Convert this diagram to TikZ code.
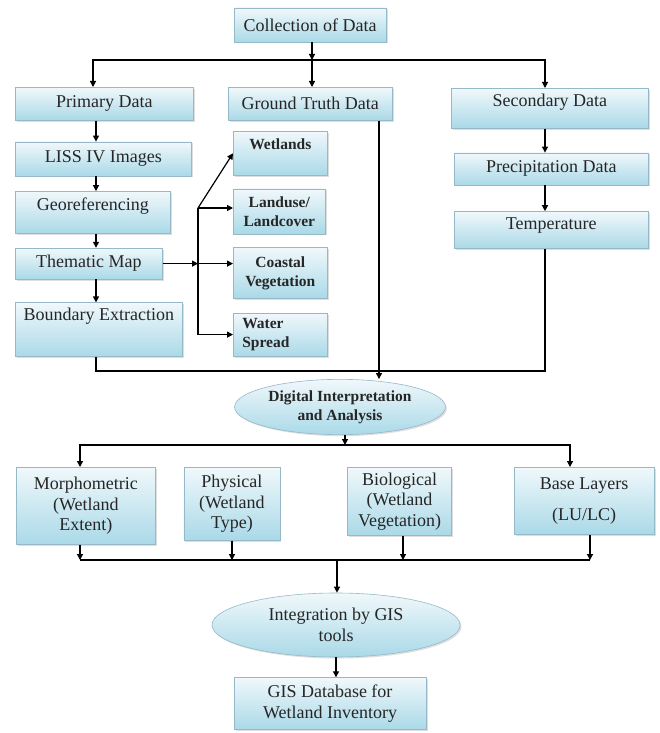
\documentclass[tikz,border=0pt]{standalone}
\usepackage{fontspec}
\setmainfont{Liberation Serif}
\usetikzlibrary{shapes.geometric, arrows.meta, positioning, shadows}
\definecolor{boxtop}{RGB}{240,248,251}
\definecolor{boxbot}{RGB}{170,217,232}
\definecolor{boxline}{RGB}{150,185,200}

\begin{document}
\begin{tikzpicture}[
  x=1pt, y=-1pt,
  stage/.style={rectangle, draw=boxline, line width=0.6pt,
    top color=boxtop, bottom color=boxbot, align=center, inner sep=3pt,
    text=black!85, font=\fontsize{18}{20.5}\selectfont,
    drop shadow={shadow xshift=1.5pt, shadow yshift=-1.5pt, fill=black!25}},
  item/.style={stage, font=\fontsize{15.5}{19}\selectfont\bfseries},
  process/.style={stage, ellipse},
  lifted/.style={text depth=#1},
  flow/.style={-{Triangle[length=6pt, width=6pt]}, line width=1.2pt},
  link/.style={line width=1.2pt}
]
  \fill[white] (0,0) rectangle (660,733);
  \useasboundingbox (0,0) rectangle (660,733);

  % collection and the three sources
  \node[stage, minimum width=152pt, minimum height=34pt] (collect) at (310,25) {Collection of Data};
  \node[stage, anchor=north west, minimum width=178pt, minimum height=33pt] (primary) at (15,87) {Primary Data};
  \node[stage, anchor=north west, minimum width=164pt, minimum height=33pt] (ground) at (228,87) {Ground Truth Data};
  \node[stage, lifted=16pt, anchor=north west, minimum width=197pt, minimum height=40pt] (secondary) at (451,88) {Secondary Data};

  % primary data chain
  \node[stage, below=21pt of primary.south west, anchor=north west, minimum width=176pt, minimum height=34pt] (liss) {LISS IV Images};
  \node[stage, lifted=16pt, below=15pt of liss.south west, anchor=north west, minimum width=155pt, minimum height=42pt] (georef) {Georeferencing};
  \node[stage, below=14pt of georef.south west, anchor=north west, minimum width=147pt, minimum height=31pt] (thematic) {Thematic Map};
  \node[stage, lifted=30pt, below=23pt of thematic.south west, anchor=north west, minimum width=167pt, minimum height=54pt] (boundary) {Boundary Extraction};

  % thematic classes
  \node[item, lifted=19pt, anchor=north west, minimum width=94pt, minimum height=44pt] (wetlands) at (233,131) {Wetlands};
  \node[item, below=13pt of wetlands.south west, anchor=north west, minimum width=92pt, minimum height=45pt] (landuse) {Landuse/\\Landcover};
  \node[item, below=13pt of landuse.south west, anchor=north west, minimum width=94pt, minimum height=51pt] (coastal) {Coastal\\Vegetation};
  \node[item, below=14pt of coastal.south west, anchor=north west, minimum width=94pt, minimum height=43pt, text width=76pt, align=left] (water) {Water\\Spread};

  % secondary data chain
  \node[stage, below=24pt of secondary.south east, anchor=north east, minimum width=194pt, minimum height=32pt] (precip) {Precipitation Data};
  \node[stage, lifted=12pt, below=26pt of precip.south east, anchor=north east, minimum width=194pt, minimum height=37pt] (temp) {Temperature};

  % analysis
  \node[process, font=\fontsize{15.5}{19}\selectfont\bfseries, minimum width=206pt, minimum height=49pt] (digital) at (340,407) {Digital Interpretation\\and Analysis};
  \node[stage, anchor=north west, minimum width=139pt, minimum height=77pt] (morph) at (16,467) {Morphometric\\(Wetland\\Extent)};
  \node[stage, right=28pt of morph.north east, anchor=north west, minimum width=96pt, minimum height=73pt] (physical) {Physical\\(Wetland\\Type)};
  \node[stage, right=67pt of physical.north east, anchor=north west, minimum width=104pt, minimum height=68pt] (biological) {Biological\\(Wetland\\Vegetation)};
  \node[stage, right=62pt of biological.north east, anchor=north west, minimum width=140pt, minimum height=67pt] (base) {Base Layers\\[11pt](LU/LC)};

  % integration
  \node[process, minimum width=248pt, minimum height=64pt] (integ) at (336,625) {Integration by GIS\\tools};
  \node[stage, below=20pt of integ, xshift=-6pt, minimum width=192pt, minimum height=52pt] (gis) {GIS Database for\\Wetland Inventory};

  \coordinate (split) at (312,60);
  \coordinate (lcol) at (96,0);
  \coordinate (rcol) at (545,0);
  \coordinate (gcol) at (379,0);
  \coordinate (fork) at (198,208);
  \coordinate (split2) at (345,445);
  \coordinate (merge) at (337,560);

  \draw[flow] (collect.south -| split) -- (split);
  \draw[flow] (split) -| (primary.north -| 93,0);
  \draw[flow] (split) -- (split |- ground.north);
  \draw[flow] (split) -| (secondary.north -| rcol);

  \draw[flow] (primary.south -| lcol) -- (liss.north -| lcol);
  \draw[flow] (liss.south -| lcol) -- (georef.north -| lcol);
  \draw[flow] (georef.south -| lcol) -- (thematic.north -| lcol);
  \draw[flow] (thematic.south -| lcol) -- (boundary.north -| lcol);

  \draw[flow] (thematic.east) -- (thematic.east -| fork);
  \draw[flow] (thematic.east -| fork) -- (thematic.east -| coastal.west);
  \draw[link] (fork) -- (fork |- water.west);
  \draw[flow] (fork) -- (wetlands.west);
  \draw[flow] (fork) -- (fork -| landuse.west);
  \draw[flow] (fork |- water.west) -- (water.west);

  \draw[flow] (secondary.south -| rcol) -- (precip.north -| rcol);
  \draw[flow] (precip.south -| rcol) -- (temp.north -| rcol);

  \draw[link] (boundary.south -| lcol) -- ++(0,14) -| (temp.south -| rcol);
  \draw[flow] (ground.south -| gcol) -- (digital.north -| gcol);

  \draw[flow] (digital.south -| split2) -- (split2);
  \draw[flow] (split2) -| (morph.north -| 80,0);
  \draw[flow] (split2) -| (base.north -| 570,0);

  \foreach \b/\x in {morph/80, physical/232, biological/403, base/590}
    \draw[flow] (\b.south -| \x,0) -- (\x,0 |- merge);
  \draw[link] (80,0 |- merge) -- (590,0 |- merge);
  \draw[flow] (merge) -- (merge |- integ.north);
  \draw[flow] (integ.south) -- (integ.south |- gis.north);
\end{tikzpicture}
\end{document}
